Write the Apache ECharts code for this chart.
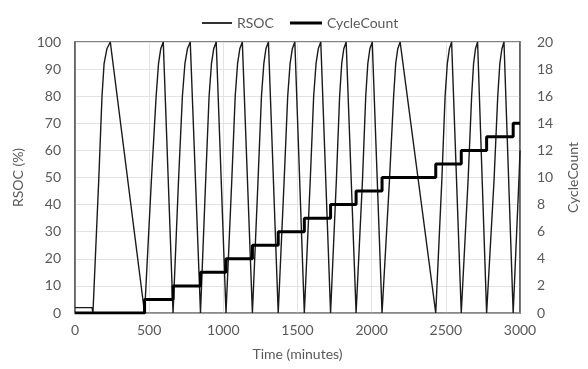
<!DOCTYPE html>
<html>
<head>
<meta charset="utf-8">
<script src="https://cdn.jsdelivr.net/npm/echarts@6/dist/echarts.min.js"></script>
<style>
html,body{margin:0;padding:0;background:#fff;}
#chart{width:588px;height:369px;}
</style>
</head>
<body>
<div id="chart"></div>
<script>
// RSOC (%) readings: time in minutes, value in %
var rsocTime = [
  0, 115, 121,
  160, 182, 196, 215, 238, 469,
  515, 547, 563, 578, 595, 661,
  698, 724, 741, 758, 777, 846,
  881, 904, 920, 935, 952, 1018,
  1057, 1080, 1096, 1111, 1128, 1196,
  1234, 1257, 1273, 1287, 1304, 1370,
  1410, 1434, 1450, 1465, 1482, 1546,
  1586, 1609, 1625, 1640, 1657, 1723,
  1762, 1784, 1798, 1812, 1828, 1895,
  1938, 1960, 1974, 1988, 2004, 2070,
  2120, 2148, 2162, 2176, 2192, 2432,
  2473, 2495, 2510, 2524, 2539, 2604,
  2650, 2674, 2687, 2700, 2714, 2775,
  2825, 2850, 2864, 2878, 2892, 2954,
  2995, 3000
];
var rsocValue = [
  2, 2, 0,
  49, 80, 92, 97.5, 100, 0,
  49, 80, 92, 97.5, 100, 0,
  49, 80, 92, 97.5, 100, 0,
  49, 80, 92, 97.5, 100, 0,
  49, 80, 92, 97.5, 100, 0,
  49, 80, 92, 97.5, 100, 0,
  49, 80, 92, 97.5, 100, 0,
  49, 80, 92, 97.5, 100, 0,
  49, 80, 92, 97.5, 100, 0,
  49, 80, 92, 97.5, 100, 0,
  49, 80, 92, 97.5, 100, 0,
  49, 80, 92, 97.5, 100, 0,
  49, 80, 92, 97.5, 100, 0,
  49, 80, 92, 97.5, 100, 0,
  52, 60
];
// CycleCount: time of each increment and the count reached
var cycleTime = [0, 469, 661, 846, 1018, 1196, 1370, 1546, 1723, 1895, 2070, 2432, 2604, 2775, 2954, 3000];
var cycleCount = [0, 1, 2, 3, 4, 5, 6, 7, 8, 9, 10, 11, 12, 13, 14, 14];

var xTicks = [0, 500, 1000, 1500, 2000, 2500, 3000];

var rsocData = rsocTime.map(function (t, i) { return [t, rsocValue[i]]; });
var cycleData = cycleTime.map(function (t, i) { return [t, cycleCount[i]]; });

var FONT = 'Lato';
var TXT = '#595959';

var chart = echarts.init(document.getElementById('chart'), null, {renderer: 'canvas'});
chart.setOption({
  animation: false,
  backgroundColor: '#fff',
  textStyle: {fontFamily: FONT},
  legend: [
    {data: ['RSOC'], left: 197, top: 11, itemWidth: 30, itemHeight: 2, itemGap: 0,
     icon: 'rect', textStyle: {color: TXT, fontSize: 14, fontFamily: FONT}},
    {data: ['CycleCount'], left: 285, top: 11, itemWidth: 32, itemHeight: 3, itemGap: 0,
     icon: 'rect', textStyle: {color: TXT, fontSize: 14, fontFamily: FONT}}
  ],
  grid: {left: 75, right: 59, top: 42, bottom: 56, show: true, borderColor: '#595959', borderWidth: 1.5, backgroundColor: 'transparent'},
  xAxis: {
    type: 'value', min: 0, max: 3000, interval: 500,
    name: 'Time (minutes)', nameLocation: 'middle', nameGap: 34,
    nameTextStyle: {color: TXT, fontSize: 14, fontFamily: FONT},
    axisLine: {show: true, lineStyle: {color: '#8c8c8c', width: 1.5}},
    axisTick: {show: false},
    axisLabel: {color: TXT, fontSize: 14, margin: 10, fontFamily: FONT,
      formatter: function (v) { return xTicks.indexOf(v) >= 0 ? String(v) : ''; }},
    splitLine: {show: true, lineStyle: {color: '#e3e3e3', width: 1}}
  },
  yAxis: [
    {type: 'value', min: 0, max: 100, interval: 10,
     name: 'RSOC (%)', nameLocation: 'middle', nameGap: 44, nameRotate: 90,
     nameTextStyle: {color: TXT, fontSize: 14, fontFamily: FONT},
     axisLine: {show: true, lineStyle: {color: '#595959', width: 1.5}},
     axisTick: {show: false},
     axisLabel: {color: TXT, fontSize: 14, margin: 14, fontFamily: FONT},
     splitLine: {show: true, lineStyle: {color: '#e3e3e3', width: 1}}},
    {type: 'value', min: 0, max: 20, interval: 2, position: 'right',
     name: 'CycleCount', nameLocation: 'middle', nameGap: 46, nameRotate: 90,
     nameTextStyle: {color: TXT, fontSize: 14, fontFamily: FONT},
     axisLine: {show: true, lineStyle: {color: '#595959', width: 1.5}},
     axisTick: {show: false},
     axisLabel: {color: TXT, fontSize: 14, margin: 17, fontFamily: FONT},
     splitLine: {show: false}}
  ],
  series: [
    {name: 'RSOC', type: 'line', yAxisIndex: 0, data: rsocData, showSymbol: false,
     symbol: 'none', lineStyle: {color: '#1a1a1a', width: 1.4}, itemStyle: {color: '#333'}, z: 3},
    {name: 'CycleCount', type: 'line', yAxisIndex: 1, data: cycleData, step: 'end', showSymbol: false,
     symbol: 'none', lineStyle: {color: '#000', width: 3}, itemStyle: {color: '#000'}, z: 4}
  ]
});
</script>
</body>
</html>
